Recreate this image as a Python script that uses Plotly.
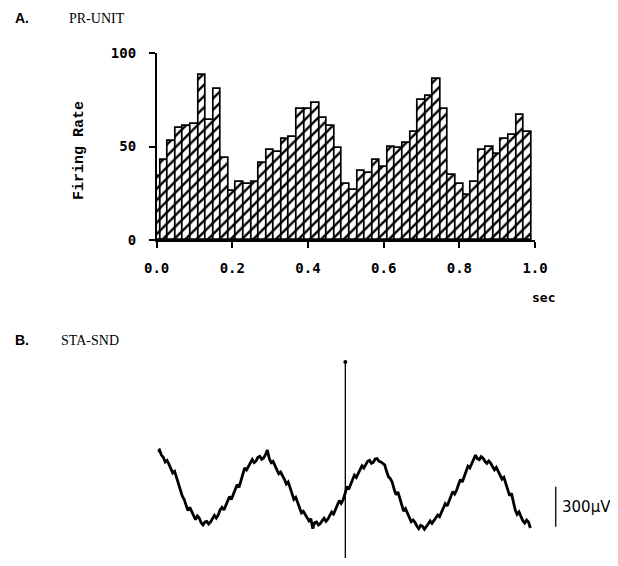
import plotly.graph_objects as go

# ---------------- Panel A: PR-UNIT firing-rate histogram ----------------
bin_sec = [0.00, 0.02, 0.04, 0.06, 0.08, 0.10, 0.12, 0.14, 0.16, 0.18,
           0.20, 0.22, 0.24, 0.26, 0.28, 0.30, 0.32, 0.34, 0.36, 0.38,
           0.40, 0.42, 0.44, 0.46, 0.48, 0.50, 0.52, 0.54, 0.56, 0.58,
           0.60, 0.62, 0.64, 0.66, 0.68, 0.70, 0.72, 0.74, 0.76, 0.78,
           0.80, 0.82, 0.84, 0.86, 0.88, 0.90, 0.92, 0.94, 0.96, 0.98]
firing_rate = [34, 43, 53, 60, 61, 62, 88, 64, 81, 44,
               26, 31, 30, 31, 41, 48, 47, 54, 55, 70,
               70, 73, 65, 61, 49, 30, 27, 37, 36, 43,
               39, 50, 49, 52, 58, 75, 77, 86, 70, 35,
               30, 24, 31, 48, 50, 46, 54, 56, 67, 58]
x_tickvals = [0.0, 0.2, 0.4, 0.6, 0.8, 1.0]
x_ticktext = ["0.0", "0.2", "0.4", "0.6", "0.8", "1.0"]
y_tickvals = [0, 50, 100]
y_ticktext = ["0", "50", "100"]

# ---------------- Panel B: STA-SND trace (sampled every 5 ms) ----------------
trace_uv = [290, 300, 262, 245, 210, 222, 192, 165, 128, 140,
            95, 50, -5, -45, -70, -120, -155, -130, -160, -200,
            -222, -195, -210, -245, -262, -240, -235, -255, -240, -215,
            -190, -210, -188, -150, -130, -150, -120, -80, -50, -70,
            -30, 10, 40, 20, 75, 120, 165, 150, 180, 210,
            228, 205, 218, 245, 252, 230, 240, 265, 300, 235,
            205, 215, 182, 150, 122, 135, 112, 80, 45, 60,
            18, -25, -70, -55, -98, -140, -172, -160, -185, -215,
            -232, -215, -290, -245, -240, -262, -252, -230, -212, -235,
            -218, -190, -165, -180, -150, -110, -80, -100, -75, -30,
            25, 5, 45, 85, 112, 95, 125, 160, 182, 165,
            190, 215, 222, 200, 208, 232, 235, 215, 210, 200,
            188, 140, 100, 85, 58, 5, -35, -15, -68, -115,
            -158, -140, -172, -210, -238, -225, -242, -270, -290, -265,
            -272, -295, -278, -255, -232, -250, -230, -205, -188, -200,
            -168, -130, -102, -120, -85, -45, -12, -30, -2, 40,
            78, 60, 105, 150, 178, 165, 198, 240, 262, 235,
            228, 250, 238, 215, 200, 218, 202, 175, 152, 170,
            140, 105, 82, 95, 52, 5, -42, -25, -98, -150,
            -182, -165, -198, -230, -248, -225, -240, -285]
trace_sec = [round(i * 0.005, 3) for i in range(len(trace_uv))]
spike_sec = 0.496
spike_top_uv = 960
scale_sec = 1.052
scale_uv = [25, -275]
scale_label = "300\u03bcV"

# Figure sized so the page (with its 8px body margin) fits the window
W, H = 602, 550
OX, OY, PW, PH = 16, 16, W - 16, H - 16


def sx(px):
    return (px - OX) / PW


def sy(py):
    return 1 - (py - OY) / PH


x2_domain = [sx(155), 1.0]
x2_range = [0, (OX + PW - 155) / 385]


def t2paper(t):
    return x2_domain[0] + (t - x2_range[0]) / (x2_range[1] - x2_range[0]) * (x2_domain[1] - x2_domain[0])


fig = go.Figure()

fig.add_bar(
    x=bin_sec, y=firing_rate, width=0.02,
    marker=dict(
        color="white",
        line=dict(color="black", width=1.7),
        pattern=dict(shape="/", fgcolor="black", bgcolor="white",
                     size=8, solidity=0.3, fillmode="replace"),
    ),
    xaxis="x", yaxis="y", showlegend=False,
)

fig.add_scatter(
    x=trace_sec, y=trace_uv, mode="lines",
    line=dict(color="black", width=2.8),
    xaxis="x2", yaxis="y2", showlegend=False,
)
fig.add_scatter(
    x=[spike_sec], y=[spike_top_uv], mode="markers",
    marker=dict(color="black", size=4),
    xaxis="x2", yaxis="y2", showlegend=False, cliponaxis=False,
)
fig.add_scatter(
    x=[scale_sec, scale_sec], y=scale_uv, mode="lines",
    line=dict(color="black", width=1.3),
    xaxis="x2", yaxis="y2", showlegend=False,
)

tickfont = dict(family="DejaVu Sans Mono", size=14, color="black", weight="bold")

fig.update_layout(
    width=W, height=H,
    margin=dict(l=0, r=0, t=0, b=0),
    paper_bgcolor="white", plot_bgcolor="white",
    bargap=0,
    xaxis=dict(
        domain=[sx(154), sx(539)], range=[0, 1.0], anchor="y",
        showline=True, linecolor="black", linewidth=1.5,
        ticks="outside", ticklen=6, tickwidth=1.5, tickcolor="black",
        tickvals=x_tickvals, ticktext=x_ticktext, tickfont=tickfont,
        ticklabelstandoff=8,
        showgrid=False, zeroline=False,
    ),
    yaxis=dict(
        domain=[sy(240), sy(53)], range=[0, 100], anchor="x",
        showline=True, linecolor="black", linewidth=1.5,
        ticks="outside", ticklen=6, tickwidth=1.5, tickcolor="black",
        tickvals=y_tickvals, ticktext=y_ticktext, tickfont=tickfont,
        ticklabelstandoff=10,
        showgrid=False, zeroline=False,
    ),
    xaxis2=dict(domain=x2_domain, range=x2_range, anchor="y2", visible=False),
    yaxis2=dict(domain=[0, sy(355)], range=[(490 - (OY + PH)) * 7.5, (490 - 355) * 7.5],
                anchor="x2", visible=False),
    shapes=[
        dict(type="line", xref="paper", yref="paper",
             x0=t2paper(spike_sec), x1=t2paper(spike_sec),
             y0=sy(558), y1=sy(490 - spike_top_uv / 7.5),
             line=dict(color="black", width=1.3)),
    ],
)


def ann(text, px, py, font, xanchor="center", angle=0):
    fig.add_annotation(text=text, x=sx(px), y=sy(py), xref="paper", yref="paper",
                       xanchor=xanchor, yanchor="middle", showarrow=False,
                       textangle=angle, font=font)


label_font = dict(family="Liberation Sans", size=14, color="black", weight="bold")
serif_font = dict(family="Liberation Serif", size=14, color="black")

ann("A.", 8, 18, label_font, xanchor="left")
ann("PR-UNIT", 63, 18, serif_font, xanchor="left")
ann("Firing Rate", 76, 150,
    dict(family="Liberation Mono", size=15, color="black", weight="bold"), angle=-90)
ann("sec", 548, 297, dict(family="DejaVu Sans Mono", size=13, color="black", weight="bold"))
ann("B.", 8, 340, label_font, xanchor="left")
ann("STA-SND", 55, 340, serif_font, xanchor="left")
ann(scale_label, 564, 507, dict(family="DejaVu Sans", size=15, color="black"), xanchor="left")

fig.write_html("out.html")
